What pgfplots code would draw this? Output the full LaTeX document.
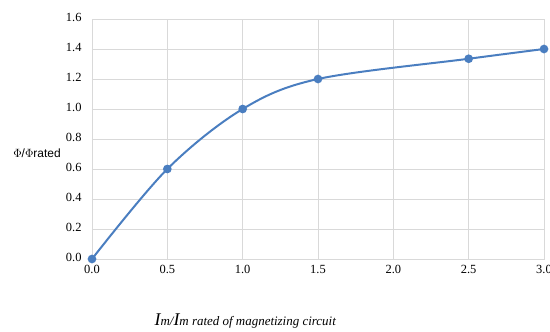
\documentclass[border=0pt]{standalone}
\usepackage{pgfplots}
\pgfplotsset{compat=1.18}
\usepackage{fontspec}
\setmainfont{Liberation Serif}
\newfontfamily\labelsans{Liberation Sans}
\definecolor{curveblue}{HTML}{4A7EC0}
\definecolor{gridgray}{HTML}{D9D9D9}
\begin{document}
\begin{tikzpicture}
\useasboundingbox (-92bp,-73bp) rectangle (458bp,259bp);
\begin{axis}[
  at={(0,0)}, anchor=south west,
  scale only axis,
  width=452bp, height=240bp,
  xmin=0, xmax=3, ymin=0, ymax=1.6,
  xtick={0,0.5,...,3.0}, ytick={0,0.2,...,1.6},
  /pgf/number format/fixed,
  /pgf/number format/fixed zerofill,
  /pgf/number format/precision=1,
  /pgf/number format/assume math mode=true,
  tick label style={font=\fontsize{12.5}{14}\selectfont},
  xticklabel style={yshift=-3bp},
  yticklabel style={xshift=-7bp, yshift=2bp},
  major tick length=0pt,
  grid=major,
  grid style={gridgray, line width=0.9pt},
  axis line style={gridgray, line width=0.9pt},
  every axis y label/.style={at={(rel axis cs:0,0.44)}, xshift=-55bp, anchor=center},
  every axis x label/.style={at={(rel axis cs:0.339,0)}, yshift=-62bp, anchor=center},
  ylabel={\labelsans\fontsize{12}{14}\selectfont $\Phi$/$\Phi$rated},
  xlabel={\itshape\fontsize{13}{15}\selectfont {\fontsize{18}{18}\selectfont I}m/{\fontsize{18}{18}\selectfont I}m rated of magnetizing circuit},
]
\addplot[curveblue, line width=2pt, smooth, tension=0.55,
  mark=*, mark size=3.3pt, mark options={fill=curveblue, draw=curveblue}]
  coordinates {(0,0) (0.5,0.6) (1.0,1.0) (1.5,1.2) (2.5,1.335) (3.0,1.4)};
\end{axis}
\end{tikzpicture}
\end{document}
